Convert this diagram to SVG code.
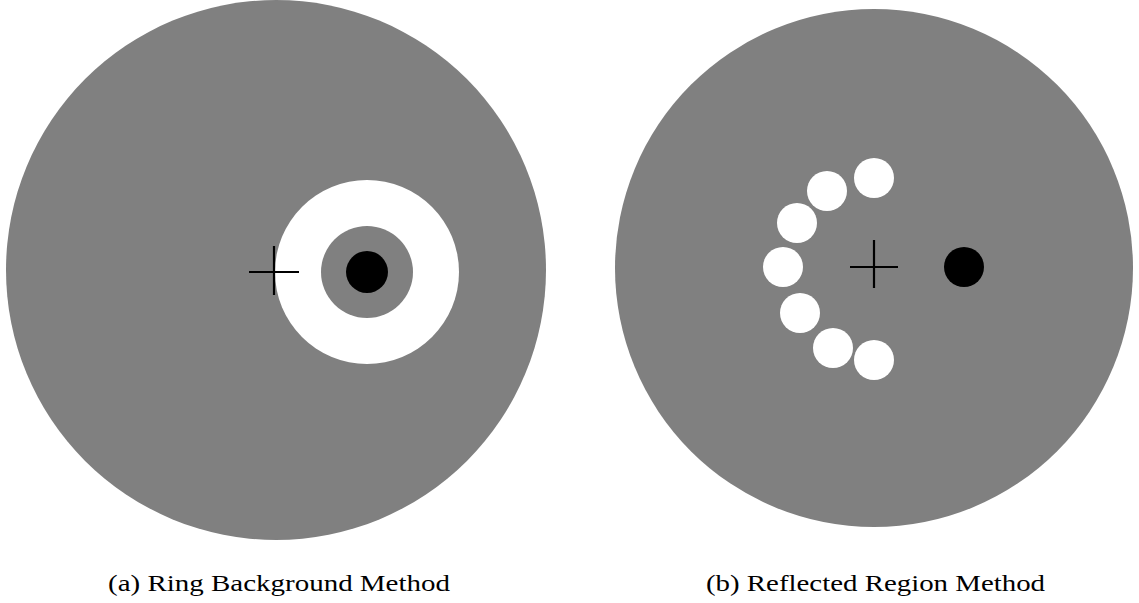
<svg xmlns="http://www.w3.org/2000/svg" width="1139" height="603" viewBox="0 0 1139 603">
<style>
.bg{fill:#808080}
.w{fill:#ffffff}
.k{fill:#000000}
.cross{stroke:#000;stroke-width:2.2;fill:none}
.cap{font-family:"Liberation Serif","Times New Roman",serif;font-size:24px;fill:#000}
</style>
<rect width="1139" height="603" fill="#fff"/>
<g id="panel-a">
<circle class="bg" cx="276" cy="270" r="270"/>
<circle class="w" cx="367" cy="272" r="92"/>
<circle class="bg" cx="367" cy="272" r="46"/>
<circle class="k" cx="367" cy="272" r="21"/>
<path class="cross" d="M249 272H299M274 246V295"/>
<text class="cap" x="108" y="591" textLength="342" lengthAdjust="spacingAndGlyphs">(a) Ring Background Method</text>
</g>
<g id="panel-b">
<circle class="bg" cx="874" cy="268" r="259"/>
<circle class="w" cx="874" cy="178" r="20"/>
<circle class="w" cx="827" cy="191" r="20"/>
<circle class="w" cx="797" cy="223" r="20"/>
<circle class="w" cx="783" cy="267" r="20"/>
<circle class="w" cx="800" cy="313" r="20"/>
<circle class="w" cx="833" cy="348" r="20"/>
<circle class="w" cx="874" cy="360" r="20"/>
<circle class="k" cx="964" cy="267" r="20"/>
<path class="cross" d="M850 267H898M874 240V288"/>
<text class="cap" x="706" y="591" textLength="339" lengthAdjust="spacingAndGlyphs">(b) Reflected Region Method</text>
</g>
</svg>
